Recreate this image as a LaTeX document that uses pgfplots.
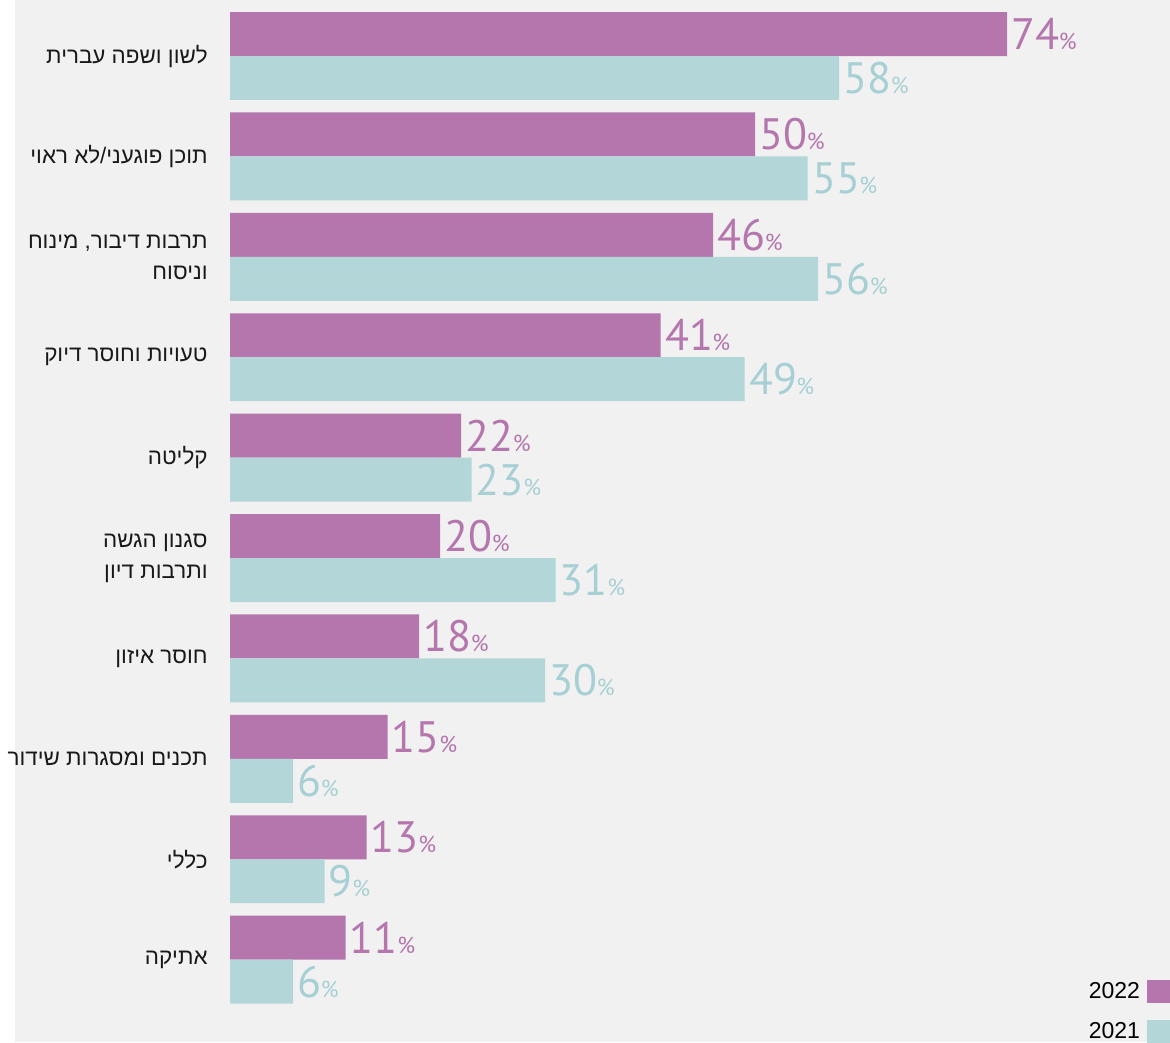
\documentclass[border=0pt]{standalone}
\usepackage{fontspec}
\setmainfont{Liberation Sans}
\newfontfamily\heb[Script=Hebrew]{Liberation Sans}
\newfontfamily\num{PT Sans}
\usepackage{pgfplots}
\pgfplotsset{compat=1.18}
\TeXXeTstate=1
\definecolor{bg}{HTML}{F1F1F1}
\definecolor{purp}{HTML}{B576AE}
\definecolor{tealbar}{HTML}{B3D7D9}
\definecolor{tealtxt}{HTML}{A6D0D4}

\begin{document}
\begin{tikzpicture}
\fill[bg] (7.5pt,0) rectangle (585pt,521pt);
\path[use as bounding box] (0,0) rectangle (585pt,521pt);
\begin{axis}[
  at={(115pt,0pt)}, anchor=south west,
  scale only axis, width=470pt, height=521pt,
  xbar, bar width=0.438,
  xmin=0, xmax=89.5,
  ymin=-0.558, ymax=9.82, y dir=reverse,
  ytick={0,...,9},
  yticklabels={
    {\beginR לשון ושפה עברית\endR},
    {\beginR תוכן פוגעני/לא ראוי\endR},
    {\beginR תרבות דיבור, מינוח\endR\\\beginR וניסוח\endR},
    {\beginR טעויות וחוסר דיוק\endR},
    {\beginR קליטה\endR},
    {\beginR סגנון הגשה\endR\\\beginR ותרבות דיון\endR},
    {\beginR חוסר איזון\endR},
    {\beginR תכנים ומסגרות שידור\endR},
    {\beginR כללי\endR},
    {\beginR אתיקה\endR}},
  yticklabel style={font=\heb\fontsize{11.2}{15.5}\selectfont, align=right,
    anchor=east, inner sep=0pt, xshift=-11pt, text=black!90},
  xtick=\empty,
  axis line style={draw=none},
  major tick length=0pt,
  clip=false,
  point meta=x,
  /pgf/number format/assume math mode=true,
  nodes near coords={\pgfmathprintnumber{\pgfplotspointmeta}\kern-0.3pt{\fontsize{11.5}{12}\selectfont\%}},
  nodes near coords align=horizontal,
  every node near coord/.append style={font=\num\fontsize{22}{22}\selectfont, inner sep=0pt, xshift=2pt},
  legend image code/.code={\fill[#1] (0pt,-5.75pt) rectangle (11.5pt,5.75pt);},
  legend plot pos=right,
  legend cell align=right,
  legend style={at={(1,0.0595)}, anchor=north east, draw=none, fill=none,
    inner sep=0pt, outer sep=0pt, font=\fontsize{11.5}{13}\selectfont,
    row sep=8.5pt, nodes={inner sep=0pt},
    /tikz/every odd column/.style={column sep=3.5pt}},
]
\addplot[fill=purp, draw=none, bar shift=-0.219, every node near coord/.append style={text=purp}]
  coordinates {(74,0) (50,1) (46,2) (41,3) (22,4) (20,5) (18,6) (15,7) (13,8) (11,9)};
\addplot[fill=tealbar, draw=none, bar shift=0.219, every node near coord/.append style={text=tealtxt}]
  coordinates {(58,0) (55,1) (56,2) (49,3) (23,4) (31,5) (30,6) (6,7) (9,8) (6,9)};
\legend{2022,2021}
\end{axis}
\end{tikzpicture}
\end{document}
